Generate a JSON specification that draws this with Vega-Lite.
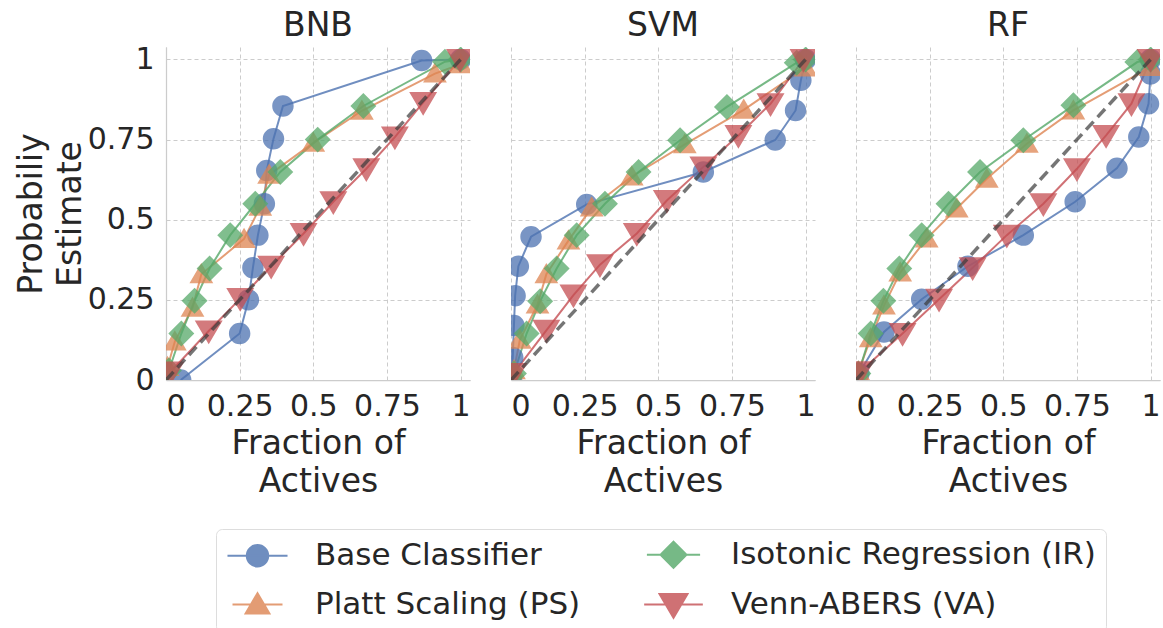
{
  "$schema": "https://vega.github.io/schema/vega-lite/v6.json",
  "background": "white",
  "padding": {"left": 15, "top": 10, "right": 5, "bottom": 0},
  "data": {"values": [
    {"m":"BNB","s":"Base Classifier","x":0.05,"y":0.0},
    {"m":"BNB","s":"Base Classifier","x":0.25,"y":0.145},
    {"m":"BNB","s":"Base Classifier","x":0.28,"y":0.25},
    {"m":"BNB","s":"Base Classifier","x":0.295,"y":0.35},
    {"m":"BNB","s":"Base Classifier","x":0.312,"y":0.452},
    {"m":"BNB","s":"Base Classifier","x":0.334,"y":0.55},
    {"m":"BNB","s":"Base Classifier","x":0.342,"y":0.654},
    {"m":"BNB","s":"Base Classifier","x":0.365,"y":0.753},
    {"m":"BNB","s":"Base Classifier","x":0.397,"y":0.855},
    {"m":"BNB","s":"Base Classifier","x":0.868,"y":0.997},
    {"m":"BNB","s":"Base Classifier","x":1.0,"y":1.0},
    {"m":"BNB","s":"Platt Scaling (PS)","x":0.005,"y":0.04},
    {"m":"BNB","s":"Platt Scaling (PS)","x":0.03,"y":0.12},
    {"m":"BNB","s":"Platt Scaling (PS)","x":0.09,"y":0.225},
    {"m":"BNB","s":"Platt Scaling (PS)","x":0.12,"y":0.33},
    {"m":"BNB","s":"Platt Scaling (PS)","x":0.265,"y":0.44},
    {"m":"BNB","s":"Platt Scaling (PS)","x":0.32,"y":0.54},
    {"m":"BNB","s":"Platt Scaling (PS)","x":0.35,"y":0.64},
    {"m":"BNB","s":"Platt Scaling (PS)","x":0.5,"y":0.74},
    {"m":"BNB","s":"Platt Scaling (PS)","x":0.665,"y":0.84},
    {"m":"BNB","s":"Platt Scaling (PS)","x":0.913,"y":0.956},
    {"m":"BNB","s":"Platt Scaling (PS)","x":1.0,"y":0.985},
    {"m":"BNB","s":"Isotonic Regression (IR)","x":0.01,"y":0.03},
    {"m":"BNB","s":"Isotonic Regression (IR)","x":0.052,"y":0.145},
    {"m":"BNB","s":"Isotonic Regression (IR)","x":0.097,"y":0.247},
    {"m":"BNB","s":"Isotonic Regression (IR)","x":0.148,"y":0.348},
    {"m":"BNB","s":"Isotonic Regression (IR)","x":0.218,"y":0.452},
    {"m":"BNB","s":"Isotonic Regression (IR)","x":0.303,"y":0.55},
    {"m":"BNB","s":"Isotonic Regression (IR)","x":0.388,"y":0.649},
    {"m":"BNB","s":"Isotonic Regression (IR)","x":0.515,"y":0.75},
    {"m":"BNB","s":"Isotonic Regression (IR)","x":0.67,"y":0.855},
    {"m":"BNB","s":"Isotonic Regression (IR)","x":0.947,"y":0.993},
    {"m":"BNB","s":"Isotonic Regression (IR)","x":1.0,"y":1.0},
    {"m":"BNB","s":"Venn-ABERS (VA)","x":0.015,"y":0.025},
    {"m":"BNB","s":"Venn-ABERS (VA)","x":0.145,"y":0.153},
    {"m":"BNB","s":"Venn-ABERS (VA)","x":0.252,"y":0.254},
    {"m":"BNB","s":"Venn-ABERS (VA)","x":0.357,"y":0.355},
    {"m":"BNB","s":"Venn-ABERS (VA)","x":0.467,"y":0.457},
    {"m":"BNB","s":"Venn-ABERS (VA)","x":0.568,"y":0.556},
    {"m":"BNB","s":"Venn-ABERS (VA)","x":0.68,"y":0.659},
    {"m":"BNB","s":"Venn-ABERS (VA)","x":0.777,"y":0.758},
    {"m":"BNB","s":"Venn-ABERS (VA)","x":0.873,"y":0.866},
    {"m":"BNB","s":"Venn-ABERS (VA)","x":0.998,"y":1.0},

    {"m":"SVM","s":"Base Classifier","x":0.002,"y":0.0},
    {"m":"SVM","s":"Base Classifier","x":0.006,"y":0.07},
    {"m":"SVM","s":"Base Classifier","x":0.01,"y":0.17},
    {"m":"SVM","s":"Base Classifier","x":0.014,"y":0.263},
    {"m":"SVM","s":"Base Classifier","x":0.025,"y":0.355},
    {"m":"SVM","s":"Base Classifier","x":0.068,"y":0.447},
    {"m":"SVM","s":"Base Classifier","x":0.257,"y":0.548},
    {"m":"SVM","s":"Base Classifier","x":0.653,"y":0.649},
    {"m":"SVM","s":"Base Classifier","x":0.897,"y":0.749},
    {"m":"SVM","s":"Base Classifier","x":0.966,"y":0.841},
    {"m":"SVM","s":"Base Classifier","x":0.984,"y":0.935},
    {"m":"SVM","s":"Base Classifier","x":1.0,"y":1.0},
    {"m":"SVM","s":"Platt Scaling (PS)","x":0.01,"y":0.03},
    {"m":"SVM","s":"Platt Scaling (PS)","x":0.03,"y":0.125},
    {"m":"SVM","s":"Platt Scaling (PS)","x":0.09,"y":0.235},
    {"m":"SVM","s":"Platt Scaling (PS)","x":0.12,"y":0.33},
    {"m":"SVM","s":"Platt Scaling (PS)","x":0.195,"y":0.435},
    {"m":"SVM","s":"Platt Scaling (PS)","x":0.274,"y":0.538},
    {"m":"SVM","s":"Platt Scaling (PS)","x":0.41,"y":0.635},
    {"m":"SVM","s":"Platt Scaling (PS)","x":0.59,"y":0.735},
    {"m":"SVM","s":"Platt Scaling (PS)","x":0.79,"y":0.843},
    {"m":"SVM","s":"Platt Scaling (PS)","x":1.0,"y":0.975},
    {"m":"SVM","s":"Isotonic Regression (IR)","x":0.01,"y":0.02},
    {"m":"SVM","s":"Isotonic Regression (IR)","x":0.053,"y":0.145},
    {"m":"SVM","s":"Isotonic Regression (IR)","x":0.099,"y":0.246},
    {"m":"SVM","s":"Isotonic Regression (IR)","x":0.155,"y":0.348},
    {"m":"SVM","s":"Isotonic Regression (IR)","x":0.223,"y":0.452},
    {"m":"SVM","s":"Isotonic Regression (IR)","x":0.319,"y":0.55},
    {"m":"SVM","s":"Isotonic Regression (IR)","x":0.433,"y":0.649},
    {"m":"SVM","s":"Isotonic Regression (IR)","x":0.574,"y":0.748},
    {"m":"SVM","s":"Isotonic Regression (IR)","x":0.733,"y":0.852},
    {"m":"SVM","s":"Isotonic Regression (IR)","x":0.97,"y":0.99},
    {"m":"SVM","s":"Isotonic Regression (IR)","x":1.0,"y":1.0},
    {"m":"SVM","s":"Venn-ABERS (VA)","x":0.008,"y":0.02},
    {"m":"SVM","s":"Venn-ABERS (VA)","x":0.12,"y":0.155},
    {"m":"SVM","s":"Venn-ABERS (VA)","x":0.212,"y":0.265},
    {"m":"SVM","s":"Venn-ABERS (VA)","x":0.302,"y":0.36},
    {"m":"SVM","s":"Venn-ABERS (VA)","x":0.427,"y":0.457},
    {"m":"SVM","s":"Venn-ABERS (VA)","x":0.529,"y":0.56},
    {"m":"SVM","s":"Venn-ABERS (VA)","x":0.653,"y":0.665},
    {"m":"SVM","s":"Venn-ABERS (VA)","x":0.772,"y":0.763},
    {"m":"SVM","s":"Venn-ABERS (VA)","x":0.881,"y":0.862},
    {"m":"SVM","s":"Venn-ABERS (VA)","x":0.993,"y":1.0},

    {"m":"RF","s":"Base Classifier","x":0.01,"y":0.02},
    {"m":"RF","s":"Base Classifier","x":0.095,"y":0.15},
    {"m":"RF","s":"Base Classifier","x":0.223,"y":0.252},
    {"m":"RF","s":"Base Classifier","x":0.38,"y":0.355},
    {"m":"RF","s":"Base Classifier","x":0.568,"y":0.452},
    {"m":"RF","s":"Base Classifier","x":0.744,"y":0.556},
    {"m":"RF","s":"Base Classifier","x":0.886,"y":0.661},
    {"m":"RF","s":"Base Classifier","x":0.96,"y":0.758},
    {"m":"RF","s":"Base Classifier","x":0.993,"y":0.862},
    {"m":"RF","s":"Base Classifier","x":1.0,"y":0.955},
    {"m":"RF","s":"Base Classifier","x":1.0,"y":1.0},
    {"m":"RF","s":"Platt Scaling (PS)","x":0.008,"y":0.026},
    {"m":"RF","s":"Platt Scaling (PS)","x":0.05,"y":0.13},
    {"m":"RF","s":"Platt Scaling (PS)","x":0.095,"y":0.232},
    {"m":"RF","s":"Platt Scaling (PS)","x":0.15,"y":0.335},
    {"m":"RF","s":"Platt Scaling (PS)","x":0.24,"y":0.441},
    {"m":"RF","s":"Platt Scaling (PS)","x":0.342,"y":0.535},
    {"m":"RF","s":"Platt Scaling (PS)","x":0.444,"y":0.628},
    {"m":"RF","s":"Platt Scaling (PS)","x":0.58,"y":0.737},
    {"m":"RF","s":"Platt Scaling (PS)","x":0.738,"y":0.841},
    {"m":"RF","s":"Platt Scaling (PS)","x":1.0,"y":0.976},
    {"m":"RF","s":"Isotonic Regression (IR)","x":0.008,"y":0.02},
    {"m":"RF","s":"Isotonic Regression (IR)","x":0.05,"y":0.145},
    {"m":"RF","s":"Isotonic Regression (IR)","x":0.093,"y":0.247},
    {"m":"RF","s":"Isotonic Regression (IR)","x":0.147,"y":0.348},
    {"m":"RF","s":"Isotonic Regression (IR)","x":0.223,"y":0.452},
    {"m":"RF","s":"Isotonic Regression (IR)","x":0.314,"y":0.55},
    {"m":"RF","s":"Isotonic Regression (IR)","x":0.421,"y":0.649},
    {"m":"RF","s":"Isotonic Regression (IR)","x":0.568,"y":0.748},
    {"m":"RF","s":"Isotonic Regression (IR)","x":0.738,"y":0.857},
    {"m":"RF","s":"Isotonic Regression (IR)","x":0.955,"y":0.992},
    {"m":"RF","s":"Isotonic Regression (IR)","x":1.0,"y":1.0},
    {"m":"RF","s":"Venn-ABERS (VA)","x":0.014,"y":0.026},
    {"m":"RF","s":"Venn-ABERS (VA)","x":0.158,"y":0.145},
    {"m":"RF","s":"Venn-ABERS (VA)","x":0.282,"y":0.252},
    {"m":"RF","s":"Venn-ABERS (VA)","x":0.396,"y":0.35},
    {"m":"RF","s":"Venn-ABERS (VA)","x":0.512,"y":0.452},
    {"m":"RF","s":"Venn-ABERS (VA)","x":0.636,"y":0.55},
    {"m":"RF","s":"Venn-ABERS (VA)","x":0.75,"y":0.659},
    {"m":"RF","s":"Venn-ABERS (VA)","x":0.849,"y":0.763},
    {"m":"RF","s":"Venn-ABERS (VA)","x":0.935,"y":0.862},
    {"m":"RF","s":"Venn-ABERS (VA)","x":1.0,"y":1.0},

    {"m":"BNB","s":"diag","x":0,"y":0},
    {"m":"BNB","s":"diag","x":1,"y":1},
    {"m":"SVM","s":"diag","x":0,"y":0},
    {"m":"SVM","s":"diag","x":1,"y":1},
    {"m":"RF","s":"diag","x":0,"y":0},
    {"m":"RF","s":"diag","x":1,"y":1}
  ]},
  "facet": {
    "column": {
      "field": "m", "type": "nominal", "sort": ["BNB", "SVM", "RF"],
      "header": {"title": null, "labelFontSize": 33, "labelColor": "#262626", "labelFont": "DejaVu Sans", "labelPadding": 4}
    }
  },
  "spacing": 41,
  "spec": {
    "width": 304,
    "height": 333,
    "encoding": {
      "x": {"field": "x", "type": "quantitative",
            "scale": {"domain": [0, 1.032], "nice": false, "zero": false},
            "axis": {"values": [0, 0.25, 0.5, 0.75, 1], "format": ".2~f", "title": ["Fraction of", "Actives"]}},
      "y": {"field": "y", "type": "quantitative",
            "scale": {"domain": [0, 1.039], "nice": false, "zero": false},
            "axis": {"values": [0, 0.25, 0.5, 0.75, 1], "format": ".2~f", "title": ["Probabiliy", "Estimate"]}}
    },
    "layer": [
      {
        "transform": [{"filter": "datum.s !== 'diag'"}],
        "mark": {"type": "line", "strokeWidth": 2, "opacity": 0.8, "clip": true},
        "encoding": {
          "color": {"field": "s", "type": "nominal",
            "scale": {"domain": ["Base Classifier", "Platt Scaling (PS)", "Isotonic Regression (IR)", "Venn-ABERS (VA)"],
                      "range": ["#4C72B0", "#DD8452", "#55A868", "#C44E52"]},
            "legend": {
              "title": null, "orient": "none", "legendX": 50, "legendY": 482, "columns": 2,
              "labelFontSize": 31, "labelFont": "DejaVu Sans", "labelColor": "#262626", "labelLimit": 0,
              "strokeColor": "#dddddd", "fillColor": "white", "cornerRadius": 6, "padding": 10,
              "rowPadding": 16, "columnPadding": 59, "symbolOffset": 16, "labelOffset": 42,
              "symbolStrokeWidth": 2
            }},
          "order": {"field": "y", "type": "quantitative"}
        }
      },
      {
        "transform": [{"filter": "datum.s !== 'diag'"}],
        "mark": {"type": "point", "filled": true, "opacity": 0.75, "clip": true},
        "encoding": {
          "color": {"field": "s", "type": "nominal"},
          "shape": {"field": "s", "type": "nominal",
            "scale": {"domain": ["Base Classifier", "Platt Scaling (PS)", "Isotonic Regression (IR)", "Venn-ABERS (VA)"],
                      "range": [
                        "M-2.8,0H2.8M-1,0A1,1,0,1,1,1,0A1,1,0,1,1,-1,0Z",
                        "M-2.1,0H2.1M-1,0.75L0,-0.95L1,0.75Z",
                        "M-2.05,0H2.05M0,-1L1,0L0,1L-1,0Z",
                        "M-2.1,0H2.1M-1,-0.75L0,0.95L1,-0.75Z"]},
            "legend": null},
          "size": {"field": "s", "type": "nominal",
            "scale": {"domain": ["Base Classifier", "Platt Scaling (PS)", "Isotonic Regression (IR)", "Venn-ABERS (VA)"],
                      "range": [460, 780, 850, 780]},
            "legend": null}
        }
      },
      {
        "transform": [{"filter": "datum.s === 'diag'"}],
        "mark": {"type": "line", "strokeWidth": 3.5, "strokeDash": [11, 6], "opacity": 0.7, "clip": true, "color": "#3a3a3a"},
        "encoding": {}
      }
    ]
  },
  "config": {
    "view": {"stroke": null},
    "font": "DejaVu Sans",
    "axis": {
      "domainColor": "#cccccc", "domainWidth": 1.25, "ticks": false,
      "gridColor": "#cccccc", "gridDash": [4, 3], "gridWidth": 1,
      "labelFont": "DejaVu Sans", "labelFontSize": 30, "labelColor": "#262626",
      "titleFont": "DejaVu Sans", "titleFontSize": 33, "titleFontWeight": "normal", "titleColor": "#262626"
    },
    "axisY": {"titlePadding": 0, "labelPadding": 12, "titleLineHeight": 39},
    "axisX": {"titlePadding": 6, "labelPadding": 11, "titleLineHeight": 38}
  }
}
